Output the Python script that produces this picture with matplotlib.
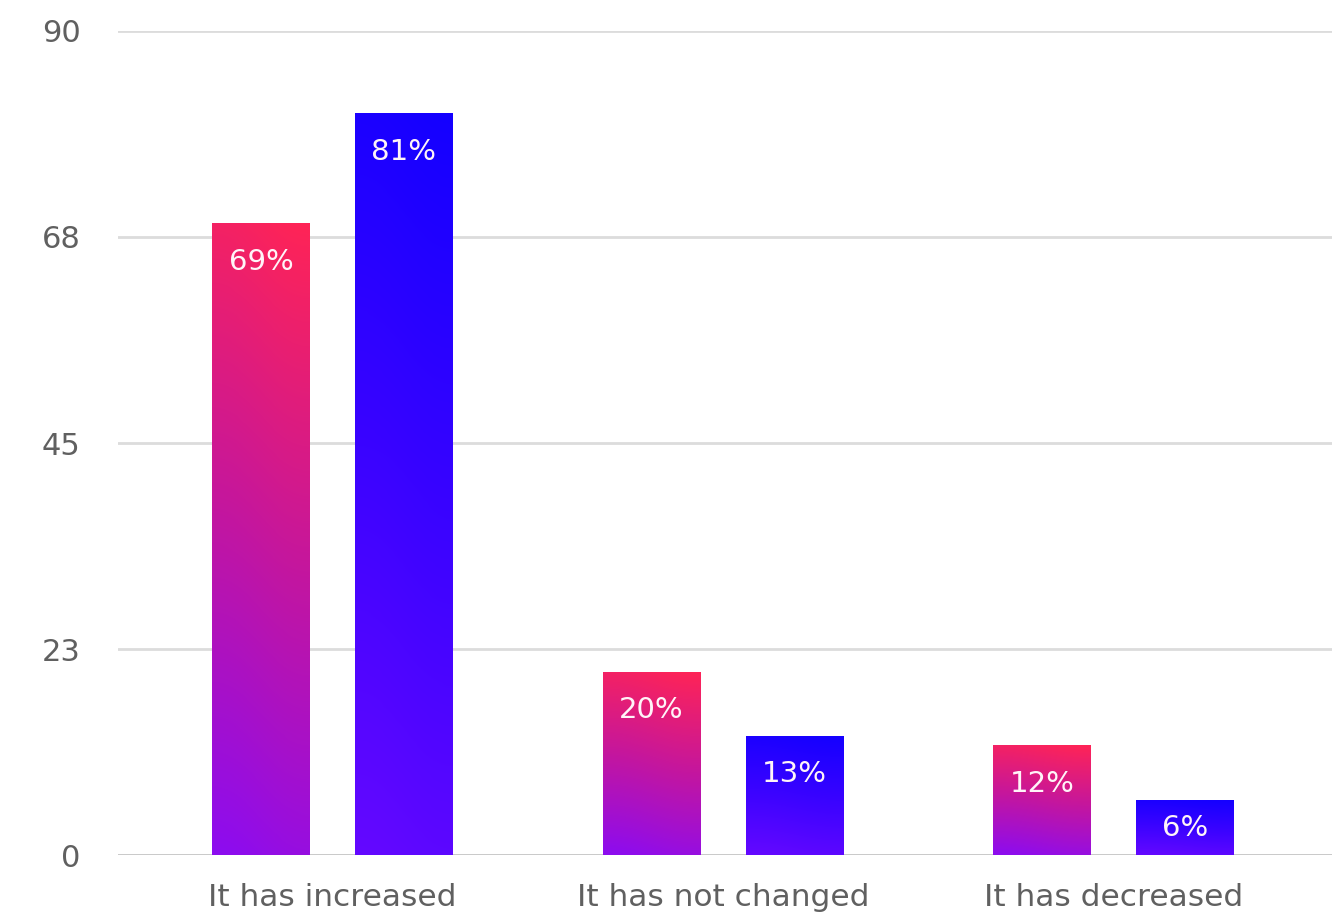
import matplotlib
matplotlib.use("Agg")
import matplotlib.pyplot as plt
import numpy as np
from matplotlib.colors import LinearSegmentedColormap

categories = ["It has increased", "It has not changed", "It has decreased"]
series_a = [69, 20, 12]
series_b = [81, 13, 6]
labels_a = ["69%", "20%", "12%"]
labels_b = ["81%", "13%", "6%"]
tick_values = [0, 22.5, 45, 67.5, 90]
tick_labels = ["0", "23", "45", "68", "90"]

plt.rcParams['font.family'] = ['DejaVu Sans']

fig = plt.figure(figsize=(13.32, 9.19), dpi=100)
ax = fig.add_axes([0.0886, 0.0696, 0.9114, 0.8967])

x = np.arange(len(categories))
width = 0.25
offset = 0.183

cmap_a = LinearSegmentedColormap.from_list("a", ["#8C0CF0", "#C4169E", "#FF2456"])
cmap_b = LinearSegmentedColormap.from_list("b", ["#6408FF", "#3A03FF", "#1400FF"])

grad = np.linspace(0, 1, 256).reshape(-1, 1)
grad = np.hstack([grad * 0.9 + 0.0, grad * 0.9 + 0.1])

def draw(xs, vals, labels, cmap):
    bars = ax.bar(xs, vals, width=width, color="none", edgecolor="none", zorder=3)
    for b, lab in zip(bars, labels):
        x0, y0 = b.get_x(), b.get_y()
        w, h = b.get_width(), b.get_height()
        im = ax.imshow(grad, cmap=cmap, vmin=0, vmax=1, origin="lower",
                       extent=[x0, x0 + w, y0, y0 + h], aspect="auto",
                       interpolation="bicubic", zorder=3)
        im.set_clip_path(b)
        ty = max(y0 + h - 4.2, y0 + h / 2)
        ax.text(x0 + w / 2, ty, lab, ha="center", va="center",
                color="#FFF4F8", fontsize=21, zorder=4)

draw(x - offset, series_a, labels_a, cmap_a)
draw(x + offset, series_b, labels_b, cmap_b)

ax.set_xlim(-0.549, 2.56)
ax.set_ylim(0, 90)
ax.set_yticks(tick_values)
ax.set_yticklabels(tick_labels)
ax.set_xticks(x)
ax.set_xticklabels(categories)
ax.tick_params(axis="both", length=0, labelcolor="#606060")
ax.tick_params(axis="y", pad=27, labelsize=22)
ax.tick_params(axis="x", pad=20, labelsize=22.5)
for s in ax.spines.values():
    s.set_visible(False)
ax.yaxis.grid(True, color="#DCDCDC", linewidth=2, zorder=0)
ax.set_axisbelow(True)
ax.axhline(0, color="#C8C8C8", linewidth=2, zorder=2)

fig.savefig("out.png", dpi=100, facecolor="white")
